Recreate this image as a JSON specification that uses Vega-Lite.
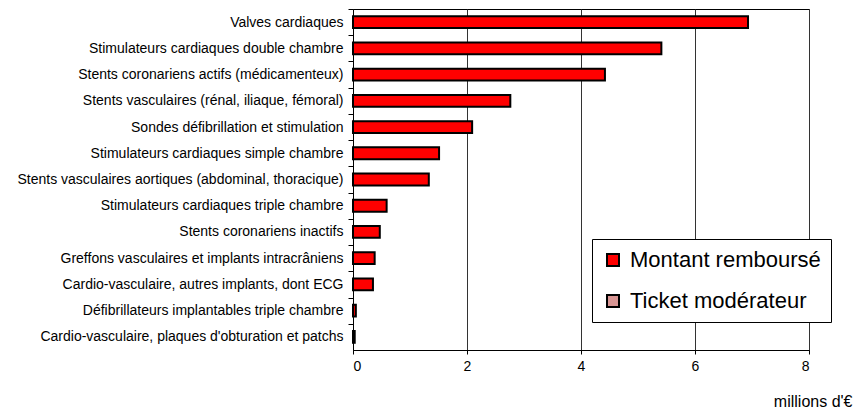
{
  "$schema": "https://vega.github.io/schema/vega-lite/v6.json",
  "autosize": {"type": "none"},
  "padding": {"left": 353, "top": 9, "right": 45, "bottom": 67},
  "width": 456,
  "height": 341,
  "background": "white",
  "config": {
    "font": "Liberation Sans",
    "view": {"stroke": "#000000", "strokeWidth": 1}
  },
  "data": {
    "values": [
      {"categorie": "Valves cardiaques", "serie": "Montant remboursé", "valeur": 6.93},
      {"categorie": "Stimulateurs cardiaques double chambre", "serie": "Montant remboursé", "valeur": 5.41},
      {"categorie": "Stents coronariens actifs (médicamenteux)", "serie": "Montant remboursé", "valeur": 4.42},
      {"categorie": "Stents vasculaires (rénal, iliaque, fémoral)", "serie": "Montant remboursé", "valeur": 2.76},
      {"categorie": "Sondes défibrillation et stimulation", "serie": "Montant remboursé", "valeur": 2.09},
      {"categorie": "Stimulateurs cardiaques simple chambre", "serie": "Montant remboursé", "valeur": 1.51},
      {"categorie": "Stents vasculaires aortiques (abdominal, thoracique)", "serie": "Montant remboursé", "valeur": 1.33},
      {"categorie": "Stimulateurs cardiaques triple chambre", "serie": "Montant remboursé", "valeur": 0.59},
      {"categorie": "Stents coronariens inactifs", "serie": "Montant remboursé", "valeur": 0.47},
      {"categorie": "Greffons vasculaires et implants intracrâniens", "serie": "Montant remboursé", "valeur": 0.38},
      {"categorie": "Cardio-vasculaire, autres implants, dont ECG", "serie": "Montant remboursé", "valeur": 0.35},
      {"categorie": "Défibrillateurs implantables triple chambre", "serie": "Montant remboursé", "valeur": 0.05},
      {"categorie": "Cardio-vasculaire, plaques d'obturation et patchs", "serie": "Montant remboursé", "valeur": 0.03}
    ]
  },
  "mark": {"type": "bar", "stroke": "#000000", "strokeWidth": 2},
  "encoding": {
    "y": {
      "field": "categorie",
      "type": "nominal",
      "sort": "-x",
      "scale": {"paddingInner": 0.55, "paddingOuter": 0.275},
      "axis": {
        "title": null,
        "labelFontSize": 14,
        "labelColor": "#000000",
        "labelPadding": 5,
        "labelLimit": 400,
        "tickSize": 5,
        "tickColor": "#000000",
        "domainColor": "#000000",
        "tickOffset": -13.1,
        "labelOffset": 13.1,
        "grid": false
      }
    },
    "x": {
      "field": "valeur",
      "type": "quantitative",
      "stack": "zero",
      "scale": {"domain": [0, 8], "nice": false},
      "axis": {
        "values": [0, 2, 4, 6, 8],
        "title": "millions d'€",
        "titleFontSize": 16,
        "titleFontWeight": "normal",
        "titleColor": "#000000",
        "titleAlign": "right",
        "titleBaseline": "top",
        "titleX": 499,
        "titleY": 43,
        "labelFontSize": 14,
        "labelColor": "#000000",
        "labelPadding": 5,
        "tickSize": 4,
        "tickColor": "#000000",
        "domainColor": "#000000",
        "grid": true,
        "gridColor": "#333333",
        "gridWidth": 1,
        "gridOpacity": 1
      }
    },
    "color": {
      "field": "serie",
      "type": "nominal",
      "scale": {
        "domain": ["Montant remboursé", "Ticket modérateur"],
        "range": ["#FF0000", "#D99694"]
      },
      "legend": {
        "title": null,
        "orient": "none",
        "legendX": 239,
        "legendY": 230,
        "padding": 10,
        "fillColor": "#FFFFFF",
        "strokeColor": "#000000",
        "symbolType": "square",
        "symbolSize": 144,
        "symbolStrokeColor": "#000000",
        "symbolStrokeWidth": 2,
        "symbolOffset": 0,
        "labelFontSize": 22,
        "labelColor": "#000000",
        "labelOffset": 6,
        "labelLimit": 300,
        "rowPadding": 19
      }
    }
  }
}
